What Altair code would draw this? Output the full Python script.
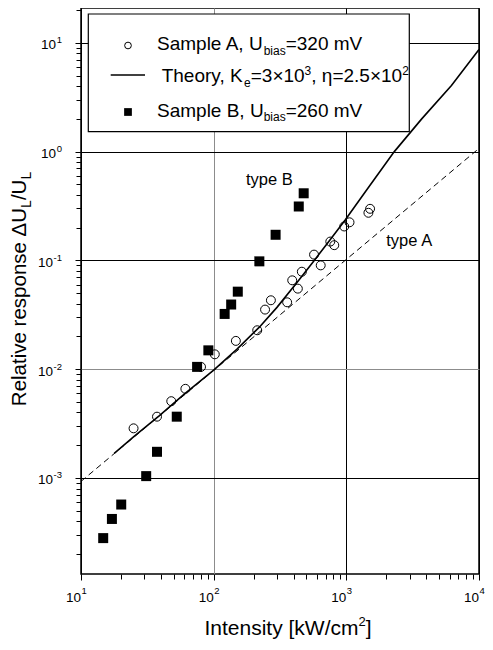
import altair as alt
import pandas as pd

# ---------------- data ----------------
sampleA_intensity = [24.9, 37.4, 47.9, 61.2, 80.3, 102, 147, 213, 244, 270, 358,
                     391, 431, 462, 571, 641, 757, 811, 964, 1057, 1467, 1510]
sampleA_response = [2.86e-3, 3.66e-3, 5.08e-3, 6.6e-3, 1.05e-2, 1.37e-2, 1.82e-2,
                    2.28e-2, 3.53e-2, 4.3e-2, 4.12e-2, 6.56e-2, 5.5e-2, 7.87e-2,
                    0.113, 0.090, 0.149, 0.138, 0.205, 0.224, 0.274, 0.298]

sampleB_intensity = [14.7, 17.1, 20.1, 31.0, 37.4, 52.7, 75, 91.2, 121, 135.5,
                     152, 221, 293, 438, 477]
sampleB_response = [2.8e-4, 4.2e-4, 5.7e-4, 1.04e-3, 1.74e-3, 3.66e-3, 1.05e-2,
                    1.49e-2, 3.22e-2, 3.93e-2, 5.16e-2, 0.098, 0.172, 0.313, 0.414]

theory_intensity = [17.8, 25, 39, 60, 100, 150, 220, 300, 438, 571, 750, 980,
                    1400, 2300, 3700, 6200, 10000]
theory_response = [1.68e-3, 2.4e-3, 3.75e-3, 5.9e-3, 9.8e-3, 1.53e-2, 2.42e-2,
                   3.7e-2, 6.56e-2, 0.0995, 0.153, 0.235, 0.432, 1.0, 2.0, 4.06, 8.7]

typeA_intensity = [10, 10000]
typeA_response = [9.3e-4, 1.07]

annot_text = ["type B", "type A"]
annot_intensity = [175, 2000]
annot_response = [0.49, 0.137]

x_major = [10, 100, 1000, 10000]
x_exponents = ["1", "2", "3", "4"]
x_minor = [20, 30, 40, 50, 60, 70, 80, 90, 200, 300, 400, 500, 600, 700, 800, 900,
           2000, 3000, 4000, 5000, 6000, 7000, 8000, 9000]
y_major = [0.001, 0.01, 0.1, 1, 10]
y_exponents = ["-3", "-2", "-1", "0", "1"]
y_minor = [2e-4, 3e-4, 4e-4, 5e-4, 6e-4, 7e-4, 8e-4, 9e-4,
           2e-3, 3e-3, 4e-3, 5e-3, 6e-3, 7e-3, 8e-3, 9e-3,
           0.02, 0.03, 0.04, 0.05, 0.06, 0.07, 0.08, 0.09,
           0.2, 0.3, 0.4, 0.5, 0.6, 0.7, 0.8, 0.9,
           2, 3, 4, 5, 6, 7, 8, 9, 20]

# ---------------- styling / layout ----------------
FONT = "Liberation Sans"
W, H = 398, 566
x_scale = alt.Scale(type="log", domain=[10, 10000], nice=False)
y_scale = alt.Scale(type="log", domain=[1.31e-4, 20.9], nice=False)


def test_any(vals):
    return " || ".join(f"abs(datum.value/{v} - 1) < 1e-6" for v in vals)


def make_axis(major, minor, gray_vals):
    return alt.Axis(
        values=major + minor,
        labels=False,
        title=None,
        grid=True,
        gridColor={"condition": {"test": test_any(gray_vals), "value": "#8c8c8c"}, "value": "#000000"},
        gridOpacity={"condition": {"test": test_any(major), "value": 1}, "value": 0},
        gridWidth=1,
        domain=False,
        ticks=True,
        tickColor="black",
        tickWidth=1,
        tickSize={"condition": {"test": test_any(major), "value": 6}, "value": 5},
    )


x_axis = make_axis(x_major, x_minor, [100])
y_axis = make_axis(y_major, y_minor, [0.01])
X = alt.X("x:Q", scale=x_scale, axis=x_axis)
Y = alt.Y("y:Q", scale=y_scale, axis=y_axis)

dfA = pd.DataFrame({"x": sampleA_intensity, "y": sampleA_response})
dfB = pd.DataFrame({"x": sampleB_intensity, "y": sampleB_response})
dfT = pd.DataFrame({"x": theory_intensity, "y": theory_response})
dfD = pd.DataFrame({"x": typeA_intensity, "y": typeA_response})
dfN = pd.DataFrame({"x": annot_intensity, "y": annot_response, "t": annot_text})

dashed = alt.Chart(dfD).mark_line(color="black", strokeWidth=1, strokeDash=[6, 4]).encode(x=X, y=Y)
theory = alt.Chart(dfT).mark_line(color="black", strokeWidth=1.6).encode(x=X, y=Y)
ptsA = alt.Chart(dfA).mark_point(shape="circle", filled=False, size=80, color="black",
                                 strokeWidth=1, opacity=1).encode(x=X, y=Y)
ptsB = alt.Chart(dfB).mark_point(shape="square", filled=True, size=100, color="black",
                                 opacity=1).encode(x=X, y=Y)
annots = alt.Chart(dfN).mark_text(font=FONT, fontSize=16.5, align="left", baseline="alphabetic",
                                  color="black").encode(x=X, y=Y, text="t:N")

# ---- tick labels "10" + raised exponent ----
TL, TE = 13.5, 9.5
dfXL = pd.DataFrame({"x": x_major, "e": x_exponents})
x_lab_base = alt.Chart(dfXL).mark_text(text="10", font=FONT, fontSize=TL, align="right",
                                       baseline="alphabetic", color="black").encode(
    x=X, y=alt.value(H + 28))
x_lab_exp = alt.Chart(dfXL).mark_text(font=FONT, fontSize=TE, align="left", dx=0.5,
                                      baseline="alphabetic", color="black").encode(
    x=X, y=alt.value(H + 20), text="e:N")

dfYL = pd.DataFrame({"y": y_major, "e": y_exponents})
Y_LAB_RIGHT = -19
y_lab_exp = alt.Chart(dfYL).mark_text(font=FONT, fontSize=TE, align="right",
                                      baseline="alphabetic", dy=0.5, color="black").encode(
    x=alt.value(Y_LAB_RIGHT), y=Y, text="e:N")
# "10" sits right before the exponent: shift left by the exponent's width
y_lab_base = alt.Chart(dfYL).transform_calculate(
    off=f"{Y_LAB_RIGHT} - (length(datum.e) > 1 ? {0.889 * TE + 0.6} : {0.556 * TE + 0.6})"
).mark_text(text="10", font=FONT, fontSize=TL, align="right", baseline="alphabetic",
            dy=6.5, color="black").encode(
    x=alt.X("off:Q", scale=None, axis=None), y=Y)

# ---- rich text helpers (sub/superscripts) ----
ARIAL = {" ": 278, ",": 278, ".": 278, "/": 278, "=": 584, "×": 584, "Δ": 668, "η": 556,
         "[": 278, "]": 278, "A": 667, "B": 667, "I": 278, "K": 667, "L": 556, "R": 722,
         "S": 667, "T": 611, "U": 722, "V": 667, "W": 944, "a": 556, "b": 556, "c": 500,
         "e": 556, "h": 556, "i": 222, "k": 500, "l": 222, "m": 833, "n": 556, "o": 556,
         "p": 556, "r": 333, "s": 500, "t": 278, "v": 500, "y": 500}


def text_width(s, size):
    return sum(ARIAL.get(c, 556) for c in s) / 1000.0 * size


BLANK = alt.Data(values=[{}])


def rich_text(parts, x0, y0, vertical=False):
    """parts: list of (text, fontsize, baseline_shift); shift > 0 lowers (subscript)."""
    layers = []
    pos = 0.0
    for txt, size, shift in parts:
        if vertical:
            px, py, ang = x0 + shift, y0 - pos, 270
        else:
            px, py, ang = x0 + pos, y0 + shift, 0
        layers.append(
            alt.Chart(BLANK).mark_text(
                text=txt, font=FONT, fontSize=size, align="left", baseline="alphabetic",
                angle=ang, color="black"
            ).encode(x=alt.value(px), y=alt.value(py))
        )
        pos += text_width(txt, size)
    return layers


LF, LS = 19, 12
legend_box = alt.Chart(BLANK).mark_rect(fill="white", stroke="black", strokeWidth=1.2).encode(
    x=alt.value(7.3), x2=alt.value(328.3), y=alt.value(6), y2=alt.value(123.7)
)
leg_circle = alt.Chart(BLANK).mark_point(shape="circle", filled=False, size=45, color="black",
                                         strokeWidth=1, opacity=1).encode(x=alt.value(47), y=alt.value(37.5))
leg_line = alt.Chart(BLANK).mark_rule(color="black", strokeWidth=1.6).encode(
    x=alt.value(29.7), x2=alt.value(64), y=alt.value(67)
)
leg_square = alt.Chart(BLANK).mark_point(shape="square", filled=True, size=60, color="black",
                                         opacity=1).encode(x=alt.value(47), y=alt.value(104))

row1 = rich_text([("Sample A, U", LF, 0), ("bias", LS, 4.5), ("=320 mV", LF, 0)], 76, 42)
row2 = rich_text([("Theory, K", LF, 0), ("e", LS, 4.5), ("=3×10", LF, 0), ("3", LS, -7.5),
                  (", η=2.5×10", LF, 0), ("2", LS, -7.5)], 80.7, 74.3)
row3 = rich_text([("Sample B, U", LF, 0), ("bias", LS, 4.5), ("=260 mV", LF, 0)], 76, 108.7)

TF = 21
x_title_parts = [("Intensity [kW/cm", TF, 0), ("2", 13, -9), ("]", TF, 0)]
xt_w = sum(text_width(t, s) for t, s, _ in x_title_parts)
x_title = rich_text(x_title_parts, 207 - xt_w / 2, 627)

YF = 20.5
y_title_parts = [("Relative response ΔU", YF, 0), ("L", 14, 4.5), ("/U", YF, 0), ("L", 14, 4.5)]
yt_w = sum(text_width(t, s) for t, s, _ in y_title_parts)
y_title = rich_text(y_title_parts, -55, 281 + yt_w / 2, vertical=True)

chart = alt.layer(
    dashed, theory, ptsA, ptsB, annots,
    x_lab_base, x_lab_exp, y_lab_base, y_lab_exp,
    legend_box, leg_circle, leg_line, leg_square,
    *row1, *row2, *row3, *x_title, *y_title,
).properties(
    width=W, height=H,
    padding={"left": 73, "top": 0, "right": 6, "bottom": 66},
    autosize=alt.AutoSizeParams(type="none"),
).configure(
    font=FONT,
    view=alt.ViewConfig(stroke="black", strokeWidth=1.5),
)

chart.save("out.html", embed_options={"renderer": "svg", "actions": False})
